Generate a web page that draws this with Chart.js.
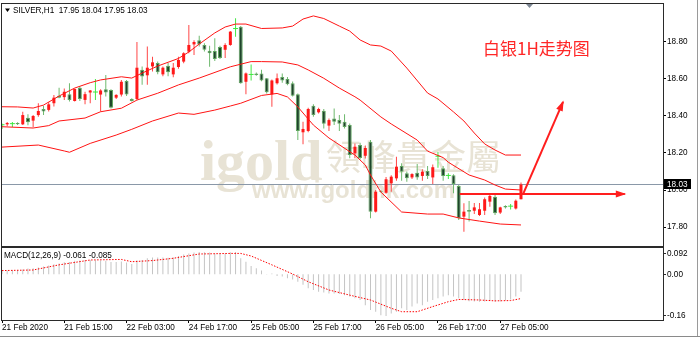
<!DOCTYPE html>
<html><head><meta charset="utf-8">
<script src="https://cdn.jsdelivr.net/npm/chart.js@4.4.0/dist/chart.umd.min.js"></script>
<style>
html,body{margin:0;padding:0;background:#fff;width:700px;height:339px;overflow:hidden;}
#wrap{position:relative;width:700px;height:339px;}
#c1{position:absolute;left:0;top:0;width:700px;height:247px;}
#c2{position:absolute;left:0;top:247px;width:700px;height:92px;}
</style></head><body>
<div id="wrap">
<canvas id="c1" width="700" height="247"></canvas>
<canvas id="c2" width="700" height="92"></canvas>
</div>
<script>
// ---------- data ----------
const symbolText = 'SILVER,H1  17.95 18.04 17.95 18.03';
const titleText = '白银1H走势图';
const lastPrice = 18.03;
const tickIdx = [0, 12, 24, 36, 48, 60, 72, 84, 96];
const tickLabels = ['21 Feb 2020','21 Feb 15:00','22 Feb 03:00','24 Feb 17:00','25 Feb 05:00','25 Feb 17:00','26 Feb 05:00','26 Feb 17:00','27 Feb 05:00'];
const priceTicks = [17.80, 18.00, 18.20, 18.40, 18.60, 18.80];
const macdTicks = [0.092, 0.00, -0.16];
const macdTickLabels = ['0.092', '0.00', '-0.16'];
const macdText = 'MACD(12,26,9) -0.061 -0.085';

const openP = [18.350,18.355,18.356,18.362,18.355,18.391,18.375,18.405,18.438,18.433,
18.469,18.510,18.502,18.518,18.481,18.553,18.487,18.527,18.527,18.516,
18.545,18.540,18.499,18.516,18.589,18.492,18.492,18.650,18.620,18.668,
18.686,18.625,18.672,18.625,18.665,18.694,18.748,18.787,18.809,18.784,
18.753,18.751,18.773,18.758,18.784,18.870,18.883,18.585,18.622,18.630,
18.630,18.604,18.517,18.577,18.611,18.600,18.577,18.517,18.312,18.319,
18.456,18.420,18.429,18.348,18.387,18.378,18.369,18.351,18.198,18.243,
18.185,18.261,17.883,17.995,17.985,18.036,18.063,18.130,18.090,18.068,
18.093,18.076,18.103,18.068,18.180,18.117,18.076,18.080,18.021,17.856,
17.892,17.888,17.865,17.888,17.937,17.964,17.878,17.913,17.910,17.900,17.950];
const highP = [18.360,18.368,18.368,18.366,18.423,18.410,18.405,18.469,18.456,18.474,
18.514,18.553,18.548,18.577,18.548,18.559,18.531,18.540,18.600,18.545,
18.622,18.545,18.518,18.594,18.594,18.496,18.800,18.668,18.775,18.720,
18.695,18.668,18.686,18.686,18.720,18.745,18.892,18.810,18.834,18.793,
18.780,18.820,18.780,18.793,18.860,18.928,18.887,18.635,18.679,18.635,
18.650,18.605,18.597,18.630,18.630,18.611,18.586,18.522,18.369,18.445,
18.463,18.445,18.438,18.387,18.441,18.405,18.409,18.360,18.252,18.256,
18.240,18.270,18.000,17.998,18.070,18.080,18.180,18.145,18.100,18.090,
18.140,18.112,18.130,18.138,18.205,18.130,18.090,18.085,18.027,17.928,
17.940,17.930,17.930,17.960,17.980,17.975,17.910,17.918,17.925,17.948,18.040];
const lowP = [18.330,18.345,18.340,18.352,18.351,18.350,18.339,18.396,18.405,18.424,
18.451,18.496,18.487,18.478,18.478,18.481,18.464,18.469,18.487,18.424,
18.505,18.441,18.492,18.505,18.508,18.478,18.487,18.569,18.569,18.640,
18.625,18.615,18.615,18.610,18.655,18.685,18.739,18.730,18.775,18.748,
18.666,18.697,18.708,18.714,18.780,18.829,18.574,18.517,18.592,18.618,
18.588,18.522,18.450,18.570,18.580,18.566,18.505,18.270,18.247,18.312,
18.396,18.413,18.333,18.319,18.351,18.319,18.333,18.171,18.171,18.165,
18.170,17.847,17.878,17.985,17.980,17.990,18.050,18.050,18.045,18.060,
18.055,18.050,18.060,18.032,18.120,18.050,18.060,17.982,17.838,17.775,
17.830,17.870,17.860,17.865,17.910,17.865,17.870,17.900,17.895,17.895,17.950];
const closeP = [18.350,18.362,18.356,18.355,18.405,18.366,18.400,18.427,18.424,18.463,
18.499,18.499,18.531,18.487,18.546,18.492,18.518,18.538,18.527,18.538,
18.527,18.445,18.514,18.585,18.516,18.481,18.661,18.614,18.661,18.690,
18.637,18.661,18.637,18.661,18.703,18.739,18.784,18.800,18.787,18.758,
18.739,18.708,18.714,18.784,18.856,18.870,18.577,18.630,18.622,18.622,
18.592,18.528,18.592,18.604,18.592,18.571,18.510,18.319,18.330,18.438,
18.405,18.438,18.358,18.378,18.369,18.358,18.341,18.189,18.234,18.173,
18.227,17.883,17.991,17.990,18.058,18.072,18.126,18.099,18.063,18.086,
18.068,18.099,18.076,18.123,18.180,18.076,18.076,18.032,17.847,17.883,
17.883,17.906,17.896,17.950,17.968,17.874,17.906,17.906,17.910,17.942,18.030];

// Bollinger bands read at sample bars
const upperIdx = [0,3,6,8,11,14,17,19,23,25,27,30,34,36,38,41,43,45,47,50,54,56,58,60,62,65,67,69,71,73,75,78,82,84,87,89,91,93,95,97,100];
const upperVal = [18.450,18.449,18.443,18.459,18.508,18.551,18.580,18.595,18.612,18.605,18.632,18.670,18.711,18.746,18.789,18.849,18.881,18.897,18.897,18.873,18.876,18.886,18.924,18.941,18.927,18.886,18.859,18.811,18.784,18.778,18.751,18.659,18.524,18.492,18.422,18.373,18.308,18.249,18.216,18.189,18.189];
const middleIdx = [0,6,9,11,16,19,23,26,30,34,38,44,48,50,54,57,59,62,65,68,69,73,75,80,82,85,86,90,93,95,97,100];
const middleVal = [18.342,18.335,18.348,18.373,18.389,18.423,18.442,18.486,18.523,18.568,18.605,18.666,18.694,18.694,18.692,18.676,18.649,18.604,18.551,18.504,18.486,18.395,18.357,18.270,18.210,18.175,18.150,18.081,18.054,18.027,18.005,18.000];
const lowerIdx = [0,7,12,13,17,22,25,29,34,37,41,44,46,50,53,55,57,60,63,68,70,71,73,77,82,85,88,92,96,100];
const lowerVal = [18.232,18.243,18.211,18.204,18.252,18.297,18.328,18.373,18.416,18.409,18.432,18.454,18.469,18.511,18.522,18.503,18.449,18.351,18.281,18.189,18.135,18.081,17.989,17.881,17.870,17.870,17.849,17.832,17.816,17.811];

// MACD main (histogram) per bar and signal read at sample bars
const macdMain = [0.013,0.013,0.015,0.015,0.017,0.020,0.021,0.024,0.027,0.031,
0.035,0.038,0.042,0.043,0.047,0.048,0.050,0.050,0.049,0.048,
0.047,0.043,0.043,0.045,0.041,0.036,0.048,0.050,0.056,0.059,
0.059,0.059,0.058,0.059,0.064,0.069,0.073,0.076,0.078,0.077,
0.076,0.073,0.073,0.073,0.077,0.078,
0.056,0.044,0.029,0.021,0.013,0.001,0.003,-0.006,-0.008,-0.014,
-0.018,-0.026,-0.037,-0.049,-0.055,-0.061,-0.064,-0.067,-0.067,-0.069,
-0.073,-0.078,-0.084,-0.090,-0.108,-0.125,-0.131,-0.143,-0.146,-0.137,
-0.131,-0.119,-0.125,-0.113,-0.102,-0.108,-0.096,-0.090,-0.084,-0.078,
-0.073,-0.078,-0.084,-0.090,-0.094,-0.095,-0.096,-0.095,-0.093,-0.096,
-0.095,-0.092,-0.088,-0.078,-0.061];
const sigIdx = [0,6,11,17,23,25,29,33,38,44,46,48,52,56,59,63,67,71,75,77,80,83,86,88,92,95,98,100];
const sigVal = [0.013,0.015,0.033,0.050,0.052,0.044,0.048,0.056,0.071,0.073,0.073,0.064,0.033,0.001,-0.026,-0.055,-0.073,-0.090,-0.119,-0.131,-0.131,-0.113,-0.096,-0.088,-0.090,-0.093,-0.092,-0.085];

// annotation arrows in data coords [barIndex, price]
const arrowUp = [[100.4, 17.978], [108.1, 18.476]];
const arrowRight = [[88.2, 17.978], [120.0, 17.978]];

// ---------- build ----------
const FONT = '"Liberation Sans", Arial, sans-serif';
const FS = 8.2;
Chart.defaults.font.family = FONT;
Chart.defaults.font.size = FS;
Chart.defaults.color = '#000';
Chart.defaults.animation = false;

const X_MIN = 0, X_MAX = 127.36;

const bullBody=[], bearBody=[], dojiBody=[], bullWick=[], bearWick=[], dojiWick=[];
openP.forEach((o,i)=>{
  const c = closeP[i], h = highP[i], l = lowP[i];
  if (c > o) { bullBody.push({x:i,y:[o,c]}); bullWick.push({x:i,y:[l,h]}); }
  else if (c < o) { bearBody.push({x:i,y:[c,o]}); bearWick.push({x:i,y:[l,h]}); }
  else { dojiBody.push({x:i,y:[o,c]}); dojiWick.push({x:i,y:[l,h]}); }
});
const pts = (ix, vs) => ix.map((x,k)=>({x, y:vs[k]}));
const RED = 'rgb(255,20,20)';
const noPad = s => { s.paddingTop = 0; s.paddingBottom = 0; s.paddingLeft = 0; s.paddingRight = 0; };

function drawArrow(ctx, x1, y1, x2, y2, head, w){
  ctx.beginPath(); ctx.moveTo(x1,y1); ctx.lineTo(x2,y2); ctx.stroke();
  const a = Math.atan2(y2-y1, x2-x1);
  const bx = x2 - head*Math.cos(a), by = y2 - head*Math.sin(a);
  ctx.beginPath();
  ctx.moveTo(x2 + 1.5*Math.cos(a), y2 + 1.5*Math.sin(a));
  ctx.lineTo(bx + w*Math.sin(a), by - w*Math.cos(a));
  ctx.lineTo(bx - w*Math.sin(a), by + w*Math.cos(a));
  ctx.closePath(); ctx.fill();
}

const mainDeco = {
  id: 'mainDeco',
  beforeDatasetsDraw(chart){
    const {ctx, chartArea:a, scales:{y}} = chart;
    ctx.save();
    ctx.fillStyle = 'rgb(232,227,213)';
    ctx.textBaseline = 'alphabetic';
    ctx.font = 'bold 58px "Liberation Serif", "DejaVu Serif", serif';
    ctx.fillText('igold', 200, 180);
    ctx.font = '35px "Noto Sans CJK TC", "Noto Sans CJK SC", sans-serif';
    ctx.textBaseline = 'middle';
    ctx.fillText('領峰貴金屬', 326, 157);
    ctx.font = 'bold 24px "Liberation Sans", Arial, sans-serif';
    ctx.textBaseline = 'alphabetic';
    ctx.fillText('www.igoldhk.com', 252, 198);
    const py = Math.round(y.getPixelForValue(lastPrice)) + 0.5;
    ctx.strokeStyle = 'rgb(138,152,168)';
    ctx.lineWidth = 1;
    ctx.beginPath(); ctx.moveTo(a.left, py); ctx.lineTo(a.right, py); ctx.stroke();
    ctx.restore();
  },
  afterDatasetsDraw(chart){
    const {ctx, scales:{x,y}} = chart;
    ctx.save();
    ctx.strokeStyle = 'rgb(255,30,30)'; ctx.fillStyle = 'rgb(255,30,30)';
    ctx.lineWidth = 2;
    for (const ar of [arrowUp, arrowRight]) {
      drawArrow(ctx, x.getPixelForValue(ar[0][0]), y.getPixelForValue(ar[0][1]),
                     x.getPixelForValue(ar[1][0]), y.getPixelForValue(ar[1][1]), 9, 3.5);
    }
    ctx.restore();
  },
  afterDraw(chart){
    const {ctx, chartArea:a, scales:{y}} = chart;
    ctx.save();
    ctx.strokeStyle = '#2a2a2a'; ctx.lineWidth = 1;
    ctx.strokeRect(a.left - 0.5, a.top - 0.5, a.right - a.left + 1, a.bottom - a.top + 1);
    ctx.strokeStyle = '#9a9a9a';
    ctx.beginPath(); ctx.moveTo(697.5, 0); ctx.lineTo(697.5, 247); ctx.stroke();
    ctx.fillStyle = '#7d8794';
    ctx.beginPath(); ctx.moveTo(526, 4); ctx.lineTo(533, 4); ctx.lineTo(529.5, 8); ctx.closePath(); ctx.fill();
    ctx.fillStyle = '#000';
    ctx.beginPath(); ctx.moveTo(5, 8.5); ctx.lineTo(10, 8.5); ctx.lineTo(7.5, 12); ctx.closePath(); ctx.fill();
    ctx.font = FS + 'px ' + FONT; ctx.textBaseline = 'middle'; ctx.textAlign = 'left';
    ctx.fillText(symbolText, 13, 10.5);
    ctx.fillStyle = 'rgb(255,38,38)';
    ctx.font = '17px "Noto Sans CJK SC", sans-serif';
    ctx.fillText(titleText, 483, 48.5);
    const py = Math.round(y.getPixelForValue(lastPrice));
    ctx.fillStyle = '#000';
    ctx.fillRect(664, py - 5, 27, 10);
    ctx.fillStyle = '#fff';
    ctx.font = FS + 'px ' + FONT;
    ctx.fillText(lastPrice.toFixed(2), 667, py + 0.5);
    ctx.restore();
  }
};

new Chart(document.getElementById('c1'), {
  type: 'bar',
  data: { datasets: [
    {type:'line', data: pts(upperIdx, upperVal), borderColor: RED, borderWidth: 1, pointRadius: 0, tension: 0, order: 0},
    {type:'line', data: pts(middleIdx, middleVal), borderColor: RED, borderWidth: 1, pointRadius: 0, tension: 0, order: 0},
    {type:'line', data: pts(lowerIdx, lowerVal), borderColor: RED, borderWidth: 1, pointRadius: 0, tension: 0, order: 0},
    {data: bullBody, backgroundColor: 'rgb(255,25,25)', barThickness: 3, grouped: false, inflateAmount: 0, borderWidth: 0, order: 1},
    {data: bearBody, backgroundColor: 'rgb(30,70,42)', borderColor: 'rgb(95,165,95)', borderWidth: 1, borderSkipped: false, barThickness: 4, grouped: false, inflateAmount: 0, order: 1},
    {data: dojiBody, backgroundColor: 'rgb(60,235,60)', barThickness: 5, minBarLength: 1, grouped: false, inflateAmount: 0, borderWidth: 0, order: 1},
    {data: bullWick, backgroundColor: 'rgb(255,70,70)', barThickness: 1, grouped: false, inflateAmount: 0, borderWidth: 0, order: 2},
    {data: bearWick, backgroundColor: 'rgb(110,185,110)', barThickness: 1, grouped: false, inflateAmount: 0, borderWidth: 0, order: 2},
    {data: dojiWick, backgroundColor: 'rgb(70,230,70)', barThickness: 1, grouped: false, inflateAmount: 0, borderWidth: 0, order: 2}
  ]},
  options: {
    responsive: false, devicePixelRatio: 1, animation: false, events: [],
    layout: { padding: {left: 2, top: 4, right: 0, bottom: 1} },
    plugins: { legend: {display: false}, tooltip: {enabled: false} },
    scales: {
      x: { type: 'linear', min: X_MIN, max: X_MAX, display: false, offset: false, grid: {offset: false} },
      y: { position: 'right', min: 17.6973, max: 19.0054,
           afterBuildTicks: s => { s.ticks = priceTicks.map(v => ({value: v})); },
           afterFit: s => { s.width = 37; noPad(s); },
           ticks: { callback: v => Number(v).toFixed(2), padding: 1, autoSkip: false, color: '#000', font: {size: FS} },
           grid: { drawOnChartArea: false, tickLength: 3, color: '#000' },
           border: { display: false } }
    }
  },
  plugins: [mainDeco]
});

const macdDeco = {
  id: 'macdDeco',
  afterDraw(chart){
    const {ctx, chartArea:a, scales:{y}} = chart;
    ctx.save();
    ctx.strokeStyle = '#2a2a2a'; ctx.lineWidth = 1;
    ctx.strokeRect(a.left - 0.5, a.top - 0.5, a.right - a.left + 1, a.bottom - a.top + 1);
    ctx.fillStyle = '#000';
    ctx.font = FS + 'px ' + FONT; ctx.textBaseline = 'middle'; ctx.textAlign = 'left';
    ctx.fillText(macdText, 4, 8.5);
    macdTicks.forEach((v, k) => {
      let py = y.getPixelForValue(v);
      py = Math.min(Math.max(py, a.top + 5), a.bottom - 5);
      const yy = Math.round(py) + 0.5;
      ctx.beginPath(); ctx.moveTo(a.right, yy); ctx.lineTo(a.right + 3, yy); ctx.stroke();
      ctx.fillText(macdTickLabels[k], a.right + 4, yy);
    });
    ctx.strokeStyle = '#9a9a9a';
    ctx.beginPath(); ctx.moveTo(697.5, 0); ctx.lineTo(697.5, 89); ctx.stroke();
    ctx.strokeStyle = '#8a8a8a';
    ctx.beginPath(); ctx.moveTo(0, 89.5); ctx.lineTo(700, 89.5); ctx.stroke();
    ctx.restore();
  }
};

new Chart(document.getElementById('c2'), {
  type: 'bar',
  data: { datasets: [
    {type:'line', data: pts(sigIdx, sigVal), borderColor: 'rgb(255,0,0)', borderWidth: 1, borderDash: [1.5, 1.5], pointRadius: 0, tension: 0, order: 0},
    {data: macdMain.map((v,i)=>({x:i, y:v})), backgroundColor: 'rgb(196,196,196)', barThickness: 1, grouped: false, inflateAmount: 0, borderWidth: 0, order: 1}
  ]},
  options: {
    responsive: false, devicePixelRatio: 1, animation: false, events: [],
    layout: { padding: {left: 2, top: 1, right: 0, bottom: 0} },
    plugins: { legend: {display: false}, tooltip: {enabled: false} },
    scales: {
      x: { type: 'linear', min: X_MIN, max: X_MAX, offset: false,
           afterBuildTicks: s => { s.ticks = tickIdx.map(v => ({value: v})); },
           afterFit: s => { s.height = 19; noPad(s); },
           ticks: { align: 'start', maxRotation: 0, autoSkip: false, padding: 0, color: '#000', font: {size: FS},
                    callback: v => tickLabels[tickIdx.indexOf(v)] },
           grid: { drawOnChartArea: false, tickLength: 3, color: '#000', offset: false },
           border: { display: false } },
      y: { position: 'right', min: -0.16, max: 0.092,
           afterFit: s => { s.width = 37; noPad(s); },
           ticks: { display: false }, grid: { display: false }, border: { display: false } }
    }
  },
  plugins: [macdDeco]
});
</script>
</body></html>
